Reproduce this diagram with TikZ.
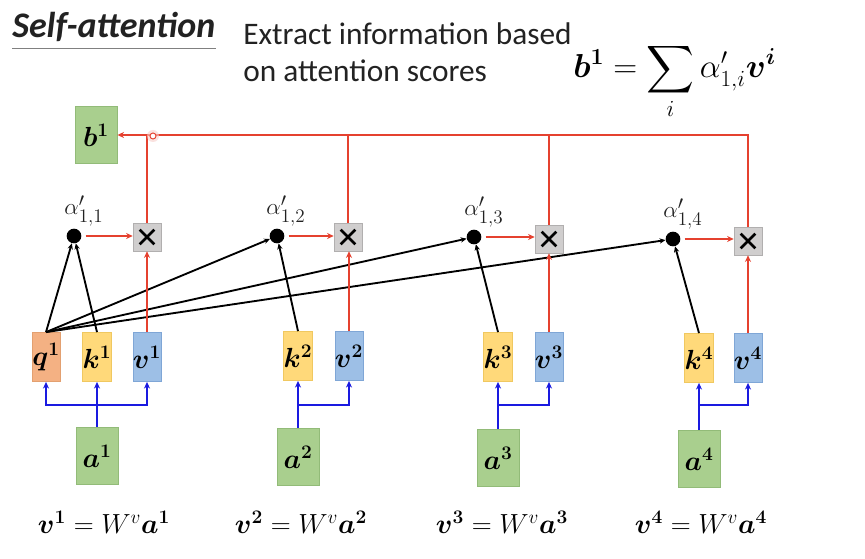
\documentclass[tikz,border=0pt]{standalone}
\usepackage{fontspec}
\usepackage{amsmath}
\usepackage{bm}
\setmainfont{Carlito}
\usetikzlibrary{arrows.meta}

\definecolor{qfill}{HTML}{F4B183}
\definecolor{qline}{HTML}{E3A070}
\definecolor{kfill}{HTML}{FFD97A}
\definecolor{kline}{HTML}{F0C860}
\definecolor{vfill}{HTML}{9DBFE6}
\definecolor{vline}{HTML}{7FA6D6}
\definecolor{gfill}{HTML}{A9CF8E}
\definecolor{gline}{HTML}{92BB78}
\definecolor{mfill}{HTML}{D0CECE}
\definecolor{redline}{HTML}{E5412F}
\definecolor{blueline}{HTML}{1A1AE0}
\definecolor{inkgray}{HTML}{222222}

\begin{document}
\begin{tikzpicture}[x=0.75pt,y=-0.75pt,
  tile/.style={minimum width=21pt,minimum height=36.75pt,inner sep=0pt,
    line width=0.6pt,font=\fontsize{21}{21}\selectfont},
  qtile/.style={tile,fill=qfill,draw=qline},
  ktile/.style={tile,fill=kfill,draw=kline},
  vtile/.style={tile,fill=vfill,draw=vline},
  gtile/.style={tile,fill=gfill,draw=gline,minimum width=31.5pt,minimum height=43pt},
  % grey multiply box with a heavy cross drawn inside
  mult/.style={fill=mfill,draw=mfill!85!black,line width=0.4pt,minimum size=21pt,inner sep=0pt,
    path picture={
      \draw[black,line width=2.1pt]
        ([shift={(5pt,-5pt)}]path picture bounding box.north west) --
        ([shift={(-5pt,5pt)}]path picture bounding box.south east)
        ([shift={(-5pt,-5pt)}]path picture bounding box.north east) --
        ([shift={(5pt,5pt)}]path picture bounding box.south west);}},
  dot/.style={circle,fill=black,minimum size=11pt,inner sep=0pt},
  alabel/.style={font=\fontsize{19}{19}\selectfont,text=inkgray},
  eqlabel/.style={font=\fontsize{21}{21}\selectfont},
  redarrow/.style={draw=redline,line width=1.5pt,-{Stealth[length=5pt,width=4.5pt]}},
  redline/.style={draw=redline,line width=1.5pt},
  blackarrow/.style={draw=black,line width=1.4pt,-{Stealth[length=4.5pt,width=4pt]}},
  bluearrow/.style={draw=blueline,line width=1.6pt,-{Stealth[length=5pt,width=4.5pt]}},
  blueline/.style={draw=blueline,line width=1.6pt}]
\useasboundingbox (0,0) rectangle (865,559);
\fill[white] (0,0) rectangle (865,559);

% heading
\node[anchor=base west,inner sep=0pt,font=\fontsize{27}{27}\selectfont\bfseries\itshape,text=inkgray]
  (title) at (12,38) {Self-attention};
\draw[gray,line width=1.1pt] ([yshift=-8pt]title.base west) -- ([yshift=-8pt]title.base east);
\node[anchor=west,align=left,inner sep=0pt,font=\fontsize{23.5}{27.5}\selectfont,text=inkgray]
  (sub) at (243,52) {Extract information based\\on attention scores};
\node[anchor=base west,inner sep=0pt,font=\fontsize{23}{23}\selectfont]
  (sumeq) at (573,78) {$\displaystyle \bm{b^1} = \sum_i \alpha'_{1,i}\bm{v^i}$};

% output
\node[gtile] (b1) at (96,135) {$\bm{b^1}$};

% weighting nodes
\node[mult] (m1) at (147,237) {};
\node[mult] (m2) at (348,237) {};
\node[mult] (m3) at (549,239) {};
\node[mult] (m4) at (748,241) {};

% attention scores
\node[dot] (d1) at (74,236) {};
\node[dot] (d2) at (277,236) {};
\node[dot] (d3) at (474,237) {};
\node[dot] (d4) at (673,239) {};
\node[alabel] (l1) at (84,211) {$\alpha'_{1,1}$};
\node[alabel] (l2) at (286,211) {$\alpha'_{1,2}$};
\node[alabel] (l3) at (484,212) {$\alpha'_{1,3}$};
\node[alabel] (l4) at (683,214) {$\alpha'_{1,4}$};

% query, keys, values
\node[qtile] (q1) at (46,357) {$\bm{q^1}$};
\node[ktile] (k1) at (97,357) {$\bm{k^1}$};
\node[vtile] (v1) at (147,357) {$\bm{v^1}$};
\node[ktile] (k2) at (298,356) {$\bm{k^2}$};
\node[vtile] (v2) at (349,356) {$\bm{v^2}$};
\node[ktile] (k3) at (498,357) {$\bm{k^3}$};
\node[vtile] (v3) at (549,357) {$\bm{v^3}$};
\node[ktile] (k4) at (699,358) {$\bm{k^4}$};
\node[vtile] (v4) at (748,358) {$\bm{v^4}$};

% inputs
\node[gtile] (a1) at (97,456) {$\bm{a^1}$};
\node[gtile] (a2) at (298,457) {$\bm{a^2}$};
\node[gtile] (a3) at (498,458) {$\bm{a^3}$};
\node[gtile] (a4) at (699,459) {$\bm{a^4}$};

% value equations
\node[eqlabel] (e1) at (104,522) {$\bm{v^1} = W^v\bm{a^1}$};
\node[eqlabel] (e2) at (301,522) {$\bm{v^2} = W^v\bm{a^2}$};
\node[eqlabel] (e3) at (502,522) {$\bm{v^3} = W^v\bm{a^3}$};
\node[eqlabel] (e4) at (701,522) {$\bm{v^4} = W^v\bm{a^4}$};

% input projections
\coordinate (j1) at (97,405);
\coordinate (j2) at (298,405);
\coordinate (j3) at (498,405);
\coordinate (j4) at (699,405);
\draw[bluearrow] (a1.north) -- (k1.south);
\draw[bluearrow] (j1) -| (q1.south);
\draw[bluearrow] (j1) -| (v1.south);
\draw[bluearrow] (a2.north) -- (k2.south);
\draw[bluearrow] (j2) -| (v2.south);
\draw[bluearrow] (a3.north) -- (k3.south);
\draw[bluearrow] (j3) -| (v3.south);
\draw[bluearrow] (a4.north) -- (k4.south);
\draw[bluearrow] (j4) -| (v4.south);

% query-key dot products
\draw[blackarrow] (q1.north) -- (d1);
\draw[blackarrow] (k1.north) -- (d1);
\draw[blackarrow] (q1.north) -- (d2);
\draw[blackarrow] (q1.north) -- (d3);
\draw[blackarrow] (q1.north) -- (d4);
\draw[blackarrow] (k2.north) -- (d2);
\draw[blackarrow] (k3.north) -- (d3);
\draw[blackarrow] (k4.north) -- (d4);

% weighting and summation
\draw[redarrow,shorten <=3pt] (d1.east) -- (d1.east -| m1.west);
\draw[redarrow,shorten <=3pt] (d2.east) -- (d2.east -| m2.west);
\draw[redarrow,shorten <=3pt] (d3.east) -- (d3.east -| m3.west);
\draw[redarrow,shorten <=3pt] (d4.east) -- (d4.east -| m4.west);
\draw[redarrow] (v1.north) -- (v1.north |- m1.south);
\draw[redarrow] (v2.north) -- (v2.north |- m2.south);
\draw[redarrow] (v3.north) -- (v3.north |- m3.south);
\draw[redarrow] (v4.north) -- (v4.north |- m4.south);
\draw[redarrow] (m4.north) |- (b1.east);
\draw[redline] (m1.north) -- (m1.north |- b1.east);
\draw[redline] (m2.north) -- (m2.north |- b1.east);
\draw[redline] (m3.north) -- (m3.north |- b1.east);

% pointer mark on the sum line
\node[circle,fill=redline!25,minimum size=9pt,inner sep=0pt,opacity=0.6] (ptrglow) at (153,136) {};
\node[circle,draw=redline,fill=white,line width=0.7pt,minimum size=4.5pt,inner sep=0pt] (ptr) at (153,136) {};
\end{tikzpicture}
\end{document}
